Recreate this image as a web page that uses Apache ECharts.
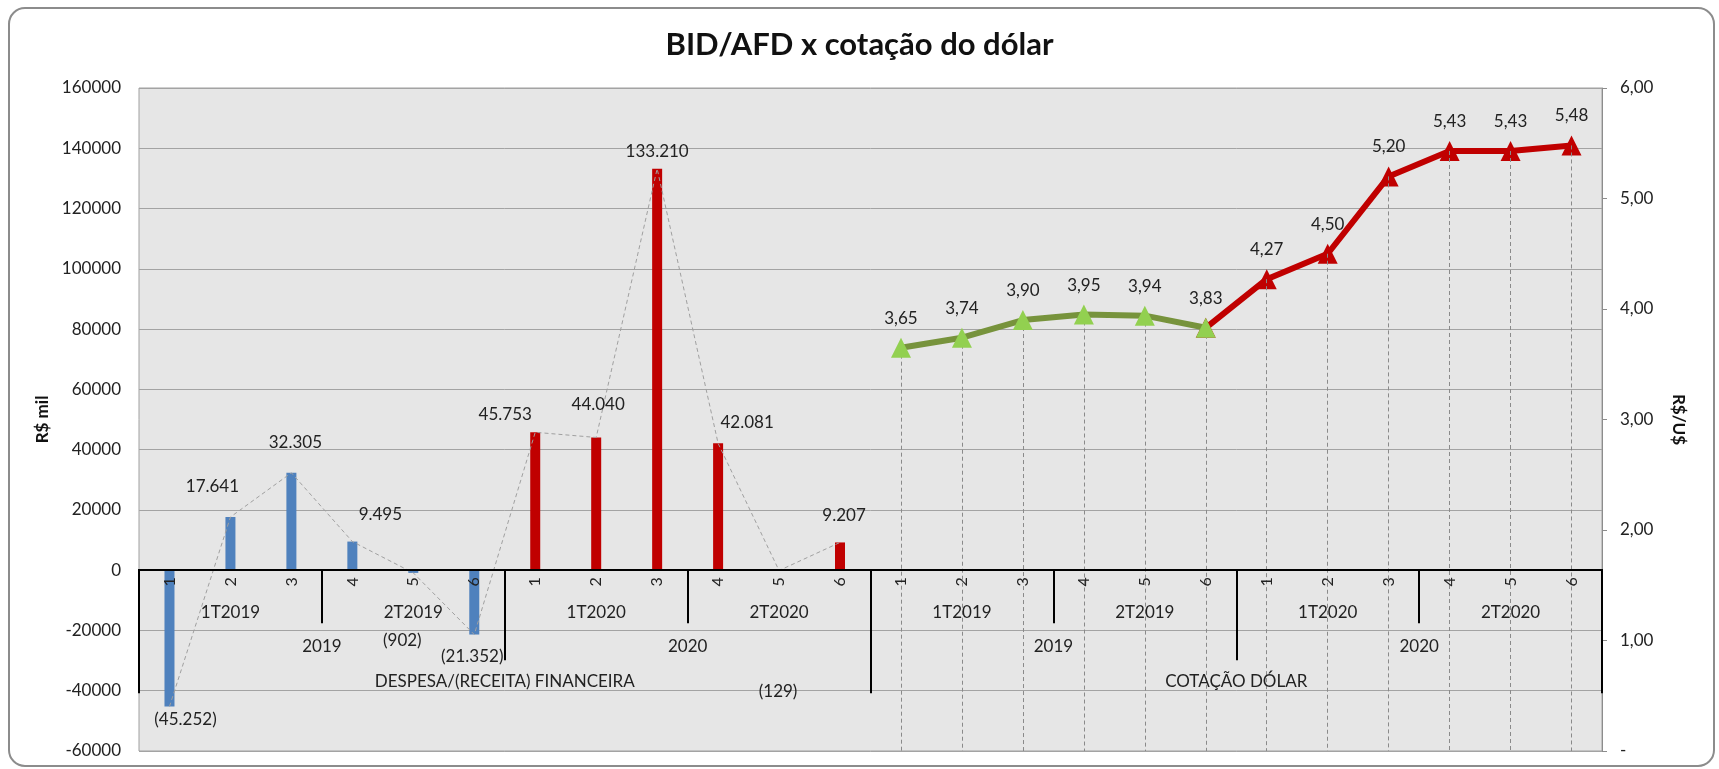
<!DOCTYPE html>
<html>
<head>
<meta charset="utf-8">
<script src="https://cdn.jsdelivr.net/npm/echarts@6.0.0/dist/echarts.min.js"></script>
<style>
  html, body { margin: 0; padding: 0; background: #fff; }
  #grafico { width: 1719px; height: 769px; }
</style>
</head>
<body>
<div id="grafico"></div>
<script>
// categorias (4 niveis)
var meses = ['1', '2', '3', '4', '5', '6'];
var trimestres = ['1T2019', '2T2019', '1T2020', '2T2020'];
var anos = ['2019', '2020'];
var grupos = ['DESPESA/(RECEITA) FINANCEIRA', 'COTAÇÃO DÓLAR'];

// valores
var despesa2019 = [-45252, 17641, 32305, 9495, -902, -21352];
var despesa2020 = [45753, 44040, 133210, 42081, -129, 9207];
var dolar2019 = [3.65, 3.74, 3.90, 3.95, 3.94, 3.83];
var dolar2020 = [4.27, 4.50, 5.20, 5.43, 5.43, 5.48];

// escalas
var yMin = -60000, yMax = 160000, yPasso = 20000;
var dMin = 0, dMax = 6, dPasso = 1;

// deslocamento dos rotulos (estilo, como no excel)
var rotuloOffset = [[16, 13], [-18, -31], [4, -30], [28, -27], [-11, 68], [-2, 22],
                    [-30, -18], [2, -33], [0, -17], [29, -21], [-1, 121], [4, -27]];

function vazio(n) { var a = []; for (var i = 0; i < n; i++) a.push(null); return a; }
function fmtMil(v) {
  var s = String(Math.abs(v)).replace(/\B(?=(\d{3})+(?!\d))/g, '.');
  return v < 0 ? '(' + s + ')' : s;
}
function fmtDolar(v) { return v.toFixed(2).replace('.', ','); }

var nGrupo = meses.length * anos.length;          // 12
var nivel1 = [];
for (var g = 0; g < grupos.length * anos.length; g++) nivel1 = nivel1.concat(meses);
var nivel2 = trimestres.concat(trimestres);
var nivel3 = anos.concat(anos);

var despesa = despesa2019.concat(despesa2020);
var dolar = dolar2019.concat(dolar2020);

var barAzul = despesa2019.concat(vazio(18));
var barVermelha = vazio(6).concat(despesa2020, vazio(12));
var linhaDespesa = despesa.map(function (v, i) {
  return { value: v, label: { offset: rotuloOffset[i] } };
}).concat(vazio(12));
var linhaVerde = vazio(12).concat(dolar2019, vazio(6));
var inicioVermelha = 12 + dolar2019.length - 1;
var linhaVermelha = vazio(inicioVermelha).concat([dolar2019[dolar2019.length - 1]], dolar2020);

var quedas = dolar.map(function (v, i) {
  return [{ coord: [nGrupo + i, v] }, { coord: [nGrupo + i, dMin] }];
});

// grade e posicao do zero (eixo de categorias cruza o eixo esquerdo em 0)
var W = 1719, H = 769;
var grade = { left: 139, right: 117, top: 88, bottom: 18 };
var alturaPlot = H - grade.top - grade.bottom;
var offsetZero = -alturaPlot * (0 - yMin) / (yMax - yMin);

var fonte = 'Lato';
var eixoPreto = { show: true, onZero: false, lineStyle: { color: '#000', width: 2 } };

function eixoNivel(dados, margem, compr) {
  return {
    type: 'category',
    gridIndex: 0,
    position: 'bottom',
    offset: offsetZero,
    z: 6,
    data: dados,
    axisLine: eixoPreto,
    axisTick: { show: true, interval: 0, length: compr, lineStyle: { color: '#000', width: 2 } },
    axisLabel: { interval: 0, margin: margem, fontFamily: fonte, fontSize: 17, color: '#222' },
    splitLine: { show: false }
  };
}

var option = {
  animation: false,
  backgroundColor: '#fff',
  textStyle: { fontFamily: fonte },
  title: {
    text: 'BID/AFD x cotação do dólar',
    left: 'center',
    top: 24,
    textStyle: { fontFamily: fonte, fontSize: 31, fontWeight: 'bold', color: '#111' }
  },
  graphic: [{
    type: 'rect',
    shape: { x: 9, y: 8, width: 1705, height: 758, r: 16 },
    style: { fill: 'none', stroke: '#8c8c8c', lineWidth: 2 },
    silent: true, z: -1
  }],
  grid: {
    left: grade.left, right: grade.right, top: grade.top, bottom: grade.bottom,
    show: true, backgroundColor: '#e6e6e6', borderColor: '#a0a0a0', borderWidth: 1,
    containLabel: false, outerBoundsMode: 'none'
  },
  xAxis: [
    {
      type: 'category',
      data: nivel1,
      position: 'bottom',
      offset: offsetZero,
      z: 6,
      axisLine: eixoPreto,
      axisTick: { show: false },
      axisLabel: { interval: 0, rotate: 90, margin: 7, fontFamily: fonte, fontSize: 16, color: '#222' },
      splitLine: { show: false }
    },
    eixoNivel(nivel2, 34, 53),
    eixoNivel(nivel3, 68, 90),
    eixoNivel(grupos, 103, 123)
  ],
  yAxis: [
    {
      type: 'value',
      min: yMin, max: yMax, interval: yPasso,
      name: 'R$ mil', nameLocation: 'middle', nameGap: 78,
      nameTextStyle: { fontFamily: fonte, fontSize: 17, fontWeight: 'bold', color: '#111' },
      axisLine: { show: false },
      axisTick: { show: false },
      axisLabel: { margin: 18, fontFamily: fonte, fontSize: 17, color: '#222', formatter: function (v) { return String(v); } },
      splitLine: { show: true, lineStyle: { color: '#a3a3a3', width: 1 } }
    },
    {
      type: 'value',
      min: dMin, max: dMax, interval: dPasso,
      position: 'right',
      name: 'R$/U$', nameLocation: 'middle', nameGap: 68, nameRotate: -90,
      nameTextStyle: { fontFamily: fonte, fontSize: 17, fontWeight: 'bold', color: '#111' },
      axisLine: { show: true, lineStyle: { color: '#8c8c8c' } },
      axisTick: { show: true, length: 5, lineStyle: { color: '#8c8c8c' } },
      axisLabel: { margin: 18, fontFamily: fonte, fontSize: 17, color: '#222', formatter: function (v) { return v === 0 ? '-' : fmtDolar(v); } },
      splitLine: { show: false }
    }
  ],
  series: [
    {
      type: 'bar', name: '2019', data: barAzul, barWidth: 10, barGap: '-100%',
      itemStyle: { color: '#4f81bd' }, z: 2
    },
    {
      type: 'bar', name: '2020', data: barVermelha, barWidth: 10, barGap: '-100%',
      itemStyle: { color: '#c00000' }, z: 2
    },
    {
      type: 'line', name: 'despesa', data: linhaDespesa,
      symbol: 'circle', symbolSize: 1, showSymbol: true,
      itemStyle: { color: 'rgba(0,0,0,0)' },
      lineStyle: { color: '#a0a0a0', width: 1, type: [4, 3] },
      label: {
        show: true, position: 'inside', fontFamily: fonte, fontSize: 17, color: '#222',
        formatter: function (p) { return fmtMil(p.value); }
      },
      z: 3
    },
    {
      type: 'line', name: 'quedas', yAxisIndex: 1, data: [],
      markLine: {
        silent: true, symbol: ['none', 'none'], label: { show: false },
        lineStyle: { color: '#8a8a8a', width: 1, type: [4, 3] },
        data: quedas
      },
      z: 1
    },
    {
      type: 'line', name: 'dólar 2020', yAxisIndex: 1, data: linhaVermelha,
      symbol: 'triangle', symbolSize: 20,
      itemStyle: { color: '#c00000' },
      lineStyle: { color: '#c00000', width: 6 },
      label: {
        show: true, position: 'top', distance: 11, fontFamily: fonte, fontSize: 17, color: '#222',
        formatter: function (p) { return p.dataIndex === inicioVermelha ? '' : fmtDolar(p.value); }
      },
      z: 4
    },
    {
      type: 'line', name: 'dólar 2019', yAxisIndex: 1, data: linhaVerde,
      symbol: 'triangle', symbolSize: 20,
      itemStyle: { color: '#92d050' },
      lineStyle: { color: '#77933c', width: 6 },
      label: {
        show: true, position: 'top', distance: 11, fontFamily: fonte, fontSize: 17, color: '#222',
        formatter: function (p) { return fmtDolar(p.value); }
      },
      z: 5
    }
  ]
};

var grafico = echarts.init(document.getElementById('grafico'));
grafico.setOption(option);
</script>
</body>
</html>
